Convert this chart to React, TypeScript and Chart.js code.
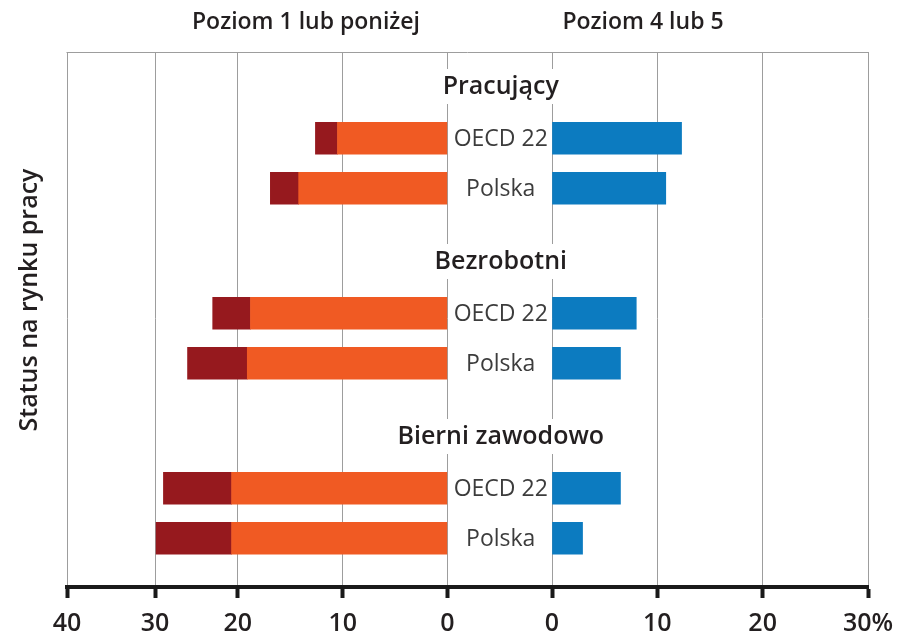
import React, { useEffect, useRef } from 'react';
import { Chart, registerables } from 'chart.js';

Chart.register(...registerables);

// ---- data ----
const groups = ['Pracujący', 'Bezrobotni', 'Bierni zawodowo'];
const countries = ['OECD 22', 'Polska'];
// order: Pracujący OECD, Pracujący Polska, Bezrobotni OECD, Bezrobotni Polska, Bierni OECD, Bierni Polska
const level1 = [10.5, 14.2, 18.8, 19.1, 20.6, 20.6];
const belowLevel1 = [2.1, 2.7, 3.6, 5.7, 6.5, 7.2];
const level4or5 = [12.3, 10.8, 8.0, 6.5, 6.5, 2.9];
const leftTickValues = [0, 10, 20, 27.9, 36.3];
const leftTickLabels = ['0', '10', '20', '30', '40'];
const rightTickValues = [0, 10, 20, 30];
const rightTickLabels = ['0', '10', '20', '30%'];
const panelTitles = ['Poziom 1 lub poniżej', 'Poziom 4 lub 5'];
const axisTitle = 'Status na rynku pracy';

// ---- layout helpers (row slots on the vertical axis) ----
const GROUP_SPAN = 7;
const titleRow = (gi: number) => gi * GROUP_SPAN + 1.4;
const barRow = (gi: number, ci: number) => gi * GROUP_SPAN + 3.45 + ci * 2;
const rows: number[] = groups.flatMap((_, gi) => countries.map((__, ci) => barRow(gi, ci)));

const FONT = '"Open Sans", "DejaVu Sans", sans-serif';
const TEXT = '#231f20';
const GRID = '#9d9d9d';
const AXIS_HEIGHT = 53;

const overlay = {
  id: 'overlay',
  afterDraw(chart: any) {
    const { ctx, chartArea, scales } = chart;
    const xL = scales.xL;
    const xR = scales.xR;
    const y = scales.y;
    ctx.save();
    // top frame line
    ctx.strokeStyle = GRID;
    ctx.lineWidth = 1;
    ctx.beginPath();
    ctx.moveTo(chartArea.left - 0.5, chartArea.top + 0.5);
    ctx.lineTo(chartArea.right + 0.5, chartArea.top + 0.5);
    ctx.stroke();

    const cx = (xL.getPixelForValue(0) + xR.getPixelForValue(0)) / 2 + 1;
    ctx.textAlign = 'center';
    ctx.textBaseline = 'middle';

    // group titles with white background
    ctx.font = `600 25px ${FONT}`;
    groups.forEach((g, gi) => {
      const py = y.getPixelForValue(titleRow(gi));
      const w = ctx.measureText(g).width;
      ctx.fillStyle = '#ffffff';
      ctx.fillRect(cx - w / 2 - 5, py - 18, w + 10, 35);
      ctx.fillStyle = TEXT;
      ctx.fillText(g, cx, py);
    });

    // country labels
    ctx.font = `400 23px ${FONT}`;
    ctx.fillStyle = '#3c3c3c';
    rows.forEach((r, i) => {
      ctx.fillText(countries[i % countries.length], cx, y.getPixelForValue(r) + 1);
    });

    // panel titles
    ctx.font = `600 23px ${FONT}`;
    ctx.fillStyle = TEXT;
    ctx.fillText(panelTitles[0], 306, 22);
    ctx.fillText(panelTitles[1], 643, 22);

    // vertical axis title
    ctx.font = `600 25px ${FONT}`;
    ctx.translate(30, 300);
    ctx.rotate(-Math.PI / 2);
    ctx.fillText(axisTitle, 0, 0);
    ctx.restore();
  },
};

export default function App() {
  const ref = useRef<HTMLCanvasElement | null>(null);

  useEffect(() => {
    if (!ref.current) return;
    const tickFont = { family: FONT, size: 25, weight: 600 as any, lineHeight: 1.84 };
    const gridOpts = {
      color: GRID,
      lineWidth: 1,
      tickColor: '#1a1a1a',
      tickWidth: 4,
      tickLength: 11,
    };
    const borderOpts = { display: true, color: '#1a1a1a', width: 4 };
    const fixHeight = (s: any) => {
      s.height = AXIS_HEIGHT;
    };

    const chart = new Chart(ref.current, {
      type: 'bar',
      data: {
        datasets: [
          {
            label: 'Poziom 1',
            data: level1.map((v, i) => ({ x: v, y: rows[i] })),
            backgroundColor: '#f05a23',
            xAxisID: 'xL',
            yAxisID: 'y',
            stack: 'L',
          },
          {
            label: 'Poniżej poziomu 1',
            data: belowLevel1.map((v, i) => ({ x: v, y: rows[i] })),
            backgroundColor: '#96191e',
            xAxisID: 'xL',
            yAxisID: 'y',
            stack: 'L',
          },
          {
            label: 'Poziom 4 lub 5',
            data: level4or5.map((v, i) => ({ x: v, y: rows[i] })),
            backgroundColor: '#0c7bc0',
            xAxisID: 'xR',
            yAxisID: 'y',
            stack: 'R',
          },
        ],
      } as any,
      options: {
        indexAxis: 'y',
        animation: false,
        responsive: false,
        layout: { padding: { left: 67, right: 31, top: 52, bottom: 0 } },
        plugins: { legend: { display: false }, tooltip: { enabled: false } },
        datasets: { bar: { grouped: false, barThickness: 32, borderWidth: 0 } } as any,
        scales: {
          y: {
            type: 'linear',
            reverse: true,
            offset: false,
            min: 0,
            max: 21.4,
            display: false,
            grid: { offset: false },
          },
          xL: {
            type: 'linear',
            position: 'bottom',
            stack: 'x',
            stackWeight: 380.5,
            reverse: true,
            stacked: true,
            min: 0,
            max: 36.3,
            afterFit: fixHeight,
            afterBuildTicks: (s: any) => {
              s.ticks = leftTickValues.map((v) => ({ value: v }));
            },
            ticks: {
              autoSkip: false,
              maxRotation: 0,
              padding: 3,
              color: TEXT,
              font: tickFont,
              callback: (_v: any, i: number) => leftTickLabels[i],
            },
            grid: gridOpts,
            border: borderOpts,
          },
          xM: {
            type: 'linear',
            position: 'bottom',
            stack: 'x',
            stackWeight: 104.5,
            min: 0,
            max: 1,
            afterFit: fixHeight,
            ticks: { display: false },
            grid: { display: false },
            border: borderOpts,
          },
          xR: {
            type: 'linear',
            position: 'bottom',
            stack: 'x',
            stackWeight: 316,
            stacked: true,
            min: 0,
            max: 30,
            afterFit: fixHeight,
            afterBuildTicks: (s: any) => {
              s.ticks = rightTickValues.map((v) => ({ value: v }));
            },
            ticks: {
              autoSkip: false,
              maxRotation: 0,
              padding: 3,
              color: TEXT,
              font: tickFont,
              callback: (_v: any, i: number) => rightTickLabels[i],
            },
            grid: gridOpts,
            border: borderOpts,
          },
        } as any,
      },
      plugins: [overlay],
    });
    return () => chart.destroy();
  }, []);

  return (
    <div style={{ position: 'absolute', left: 0, top: 0, width: 899, height: 640, background: '#fff' }}>
      <canvas ref={ref} width={899} height={640} style={{ display: 'block' }} />
    </div>
  );
}
